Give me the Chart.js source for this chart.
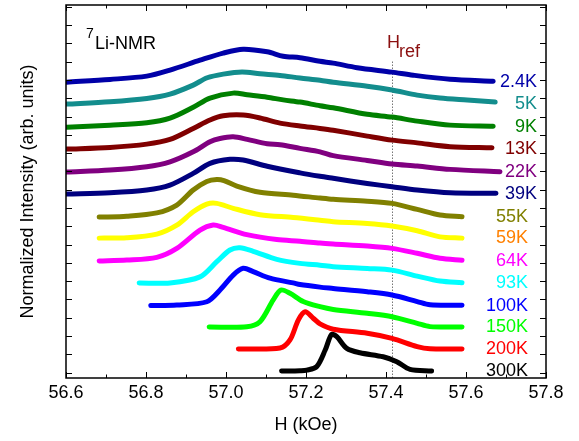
<!DOCTYPE html>
<html>
<head>
<meta charset="utf-8">
<title>7Li-NMR spectra</title>
<script src="https://cdn.jsdelivr.net/npm/chart.js@4.4.0/dist/chart.umd.min.js"></script>
<style>
  html, body { margin: 0; padding: 0; background: #fff; }
  #wrap { width: 579px; height: 441px; }
</style>
</head>
<body>
<div id="wrap"><canvas id="nmrChart"></canvas></div>
<script>
// temperatures, top curve first
const temps = ["2.4K", "5K", "9K", "13K", "22K", "39K", "55K", "59K", "64K", "93K", "100K", "150K", "200K", "300K"];
// vertical offset of each spectrum (arb. units)
const offsets = [15.88, 14.68, 13.42, 12.22, 10.96, 9.76, 8.50, 7.35, 6.10, 4.89, 3.64, 2.49, 1.29, 0.08];
const lineColors = ["#0000a8", "#138d8d", "#008000", "#800000", "#800080", "#00007f", "#808000",
  "#ffff00", "#ff00ff", "#00ffff", "#0000ff", "#00ff00", "#ff0000", "#000000"];
const labelColors = ["#0000a8", "#138d8d", "#008000", "#800000", "#800080", "#00007f", "#808000",
  "#ff8000", "#ff00ff", "#00ffff", "#0000ff", "#00ff00", "#ff0000", "#000000"];

// field (kOe) of the points
const fields = [
  [56.602, 56.71, 56.802, 56.86, 56.935, 56.993, 57.043, 57.103, 57.143, 57.185, 57.235, 57.268, 57.328, 57.415, 57.468, 57.56, 57.668],
  [56.602, 56.71, 56.802, 56.86, 56.918, 56.953, 56.993, 57.04, 57.085, 57.135, 57.185, 57.235, 57.268, 57.353, 57.415, 57.478, 57.535, 57.603, 57.673],
  [56.602, 56.71, 56.802, 56.86, 56.918, 56.96, 57.018, 57.053, 57.103, 57.143, 57.185, 57.235, 57.268, 57.353, 57.415, 57.478, 57.56, 57.668],
  [56.602, 56.71, 56.802, 56.86, 56.918, 56.96, 56.993, 57.043, 57.085, 57.135, 57.185, 57.235, 57.268, 57.353, 57.415, 57.478, 57.56, 57.665],
  [56.602, 56.71, 56.802, 56.86, 56.918, 56.96, 56.985, 57.018, 57.053, 57.103, 57.135, 57.185, 57.235, 57.268, 57.353, 57.415, 57.478, 57.56, 57.685],
  [56.602, 56.71, 56.802, 56.86, 56.918, 56.96, 57.01, 57.043, 57.103, 57.185, 57.235, 57.268, 57.353, 57.415, 57.478, 57.56, 57.675],
  [56.683, 56.752, 56.827, 56.877, 56.918, 56.952, 56.977, 56.995, 57.027, 57.085, 57.168, 57.235, 57.268, 57.353, 57.415, 57.478, 57.535, 57.59],
  [56.683, 56.752, 56.827, 56.877, 56.918, 56.952, 56.977, 57.018, 57.085, 57.168, 57.235, 57.268, 57.353, 57.415, 57.478, 57.535, 57.59],
  [56.683, 56.752, 56.827, 56.877, 56.935, 56.968, 56.993, 57.052, 57.127, 57.185, 57.235, 57.268, 57.353, 57.415, 57.478, 57.535, 57.59],
  [56.783, 56.86, 56.935, 56.977, 57.01, 57.035, 57.068, 57.127, 57.185, 57.235, 57.268, 57.353, 57.415, 57.478, 57.535, 57.59],
  [56.812, 56.877, 56.952, 56.985, 57.018, 57.043, 57.068, 57.11, 57.168, 57.185, 57.235, 57.268, 57.353, 57.415, 57.478, 57.51, 57.59],
  [56.958, 57.052, 57.085, 57.118, 57.137, 57.16, 57.193, 57.235, 57.268, 57.353, 57.415, 57.478, 57.51, 57.59],
  [57.031, 57.135, 57.16, 57.181, 57.198, 57.218, 57.235, 57.268, 57.353, 57.415, 57.478, 57.51, 57.59],
  [57.139, 57.185, 57.202, 57.227, 57.248, 57.264, 57.277, 57.302, 57.335, 57.393, 57.427, 57.46, 57.514]
];
// normalized intensity above each baseline
const intensities = [
  [0, 0.15, 0.33, 0.66, 1.2, 1.59, 1.80, 1.66, 1.42, 1.34, 1.14, 1.04, 0.79, 0.55, 0.38, 0.16, 0.05],
  [0, 0.13, 0.31, 0.55, 1.04, 1.44, 1.64, 1.76, 1.66, 1.57, 1.43, 1.31, 1.20, 0.98, 0.77, 0.49, 0.33, 0.22, 0.11],
  [0, 0.11, 0.24, 0.49, 1.09, 1.59, 1.86, 1.77, 1.64, 1.49, 1.37, 1.17, 1.06, 0.70, 0.55, 0.33, 0.11, 0.05],
  [0, 0.09, 0.27, 0.53, 1.13, 1.59, 1.82, 1.86, 1.70, 1.42, 1.26, 1.13, 1.03, 0.71, 0.49, 0.34, 0.13, 0.07],
  [0, 0.11, 0.29, 0.56, 1.11, 1.66, 1.84, 1.93, 1.79, 1.55, 1.50, 1.30, 1.11, 0.90, 0.64, 0.44, 0.33, 0.15, 0.02],
  [0, 0.07, 0.22, 0.49, 1.13, 1.68, 1.90, 1.86, 1.52, 1.16, 0.97, 0.86, 0.58, 0.40, 0.22, 0.07, 0.04],
  [0, 0.05, 0.23, 0.66, 1.48, 1.95, 2.06, 2.0, 1.70, 1.36, 1.20, 1.04, 0.97, 0.87, 0.75, 0.42, 0.11, 0.02],
  [0, 0.02, 0.22, 0.71, 1.44, 1.86, 1.90, 1.63, 1.28, 1.13, 0.98, 0.90, 0.80, 0.66, 0.40, 0.07, 0],
  [0, 0.05, 0.20, 0.69, 1.69, 1.97, 1.84, 1.44, 1.17, 1.08, 0.98, 0.93, 0.82, 0.69, 0.42, 0.15, 0.04],
  [0, 0.01, 0.34, 1.17, 1.81, 1.93, 1.74, 1.30, 1.08, 0.98, 0.90, 0.80, 0.71, 0.38, 0.11, 0.02],
  [0.02, 0.05, 0.23, 0.87, 1.69, 2.06, 1.88, 1.52, 1.26, 1.17, 1.03, 0.96, 0.78, 0.60, 0.24, 0.06, 0.04],
  [0, 0.01, 0.29, 1.48, 2.02, 1.84, 1.39, 1.11, 0.96, 0.75, 0.56, 0.20, 0.02, 0],
  [0, 0.05, 0.49, 1.59, 2.03, 1.68, 1.37, 1.08, 0.86, 0.58, 0.13, 0.01, 0],
  [0, 0.02, 0.05, 0.25, 1.15, 2.0, 1.88, 1.24, 1.0, 0.78, 0.51, 0.09, 0]
];

const hRef = 57.415;
const FONT = "'Liberation Sans', Arial, sans-serif";

Chart.defaults.color = "#000";
Chart.defaults.font.family = FONT;

const datasets = temps.map((t, i) => ({
  label: t,
  data: fields[i].map((h, j) => ({ x: h, y: offsets[i] + intensities[i][j] })),
  borderColor: lineColors[i],
  borderWidth: 5,
  borderCapStyle: "round",
  borderJoinStyle: "round",
  tension: 0.3,
  pointRadius: 0,
  fill: false
}));

const overlay = {
  id: "overlay",
  beforeDatasetsDraw(chart) {
    const { ctx, chartArea: a, scales: { x, y } } = chart;
    ctx.save();
    ctx.strokeStyle = "#333";
    ctx.lineWidth = 1;
    ctx.setLineDash([1, 2]);
    const px = Math.round(x.getPixelForValue(hRef)) + 0.5;
    ctx.beginPath();
    ctx.moveTo(px, y.getPixelForValue(17));
    ctx.lineTo(px, a.bottom);
    ctx.stroke();
    ctx.restore();
  },
  afterDatasetsDraw(chart) {
    const { ctx, chartArea: a, scales: { x, y } } = chart;
    ctx.save();
    ctx.strokeStyle = "#000";
    ctx.lineWidth = 1.5;
    ctx.strokeRect(a.left, a.top, a.right - a.left, a.bottom - a.top);

    // inward ticks, top and bottom
    ctx.lineWidth = 1;
    for (let k = 0; k <= 12; k++) {
      const px = Math.round(x.getPixelForValue(56.6 + k * 0.1)) + 0.5;
      const len = k % 2 === 0 ? 6 : 3.5;
      ctx.beginPath();
      ctx.moveTo(px, a.bottom); ctx.lineTo(px, a.bottom - len);
      ctx.moveTo(px, a.top); ctx.lineTo(px, a.top + len);
      ctx.stroke();
    }
    // inward ticks, left and right
    for (let k = 0; k <= 20; k++) {
      const py = Math.round(y.getPixelForValue(k)) + 0.5;
      ctx.beginPath();
      ctx.moveTo(a.left, py); ctx.lineTo(a.left + 6, py);
      ctx.moveTo(a.right, py); ctx.lineTo(a.right - 6, py);
      ctx.stroke();
    }

    // temperature labels
    ctx.font = "18px " + FONT;
    ctx.textAlign = "right";
    ctx.textBaseline = "middle";
    temps.forEach((t, i) => {
      ctx.fillStyle = labelColors[i];
      ctx.fillText(t, i < 6 ? a.right - 9 : a.right - 18, y.getPixelForValue(offsets[i]));
    });

    // 7Li-NMR
    ctx.textAlign = "left";
    ctx.textBaseline = "alphabetic";
    ctx.fillStyle = "#000";
    ctx.font = "14px " + FONT;
    ctx.fillText("7", a.left + 20, a.top + 33);
    ctx.font = "18px " + FONT;
    ctx.fillText("Li-NMR", a.left + 29, a.top + 44);

    // H_ref
    const hx = x.getPixelForValue(hRef);
    ctx.fillStyle = "#8b1010";
    ctx.fillText("H", hx - 5, a.top + 43);
    ctx.fillText("ref", hx + 7, a.top + 52);
    ctx.restore();
  }
};

new Chart(document.getElementById("nmrChart"), {
  type: "line",
  data: { datasets },
  options: {
    responsive: true,
    maintainAspectRatio: false,
    animation: false,
    layout: { padding: { top: 5, right: 33, left: 0, bottom: 0 } },
    plugins: { legend: { display: false }, tooltip: { enabled: false } },
    scales: {
      x: {
        type: "linear",
        min: 56.6,
        max: 57.8,
        grid: { display: false, drawTicks: false },
        border: { display: false },
        ticks: {
          stepSize: 0.2,
          padding: 4,
          font: { size: 18 },
          callback: (v) => Number(v).toFixed(1)
        },
        title: { display: true, text: "H (kOe)", font: { size: 18 }, padding: { top: 0, bottom: 5 } },
        afterFit: (s) => { s.height = 63; }
      },
      y: {
        type: "linear",
        min: -0.3,
        max: 20.1,
        grid: { display: false, drawTicks: false },
        border: { display: false },
        ticks: { display: false },
        title: {
          display: true,
          text: "Normalized Intensity (arb. units)",
          font: { size: 18 },
          padding: { top: 17, bottom: 0 }
        },
        afterFit: (s) => { s.width = 66; }
      }
    }
  },
  plugins: [overlay]
});
</script>
</body>
</html>
